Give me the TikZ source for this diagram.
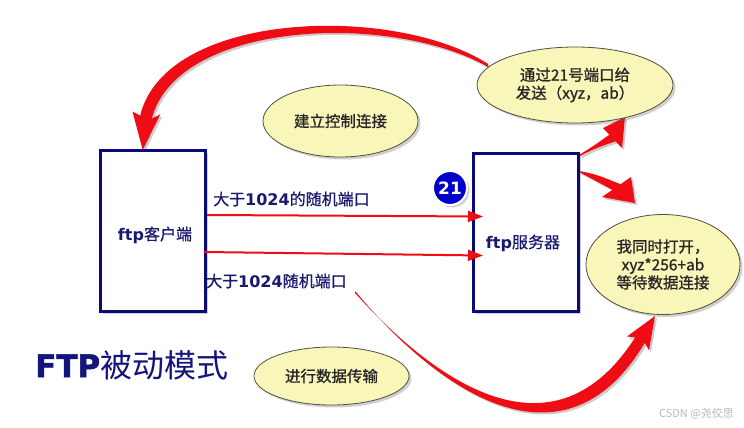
\documentclass[tikz,border=0pt]{standalone}
\usepackage{fontspec}
\setmainfont{Noto Sans CJK SC}
\newfontfamily\cjkb[FakeBold=1.0]{Noto Sans CJK SC}
\newfontfamily\cjkm[FakeBold=0.6]{Noto Sans CJK SC}
\newfontfamily\latb{DejaVu Sans Bold}
\newfontfamily\heavyfont[FakeBold=1.6]{DejaVu Sans Bold}
\usetikzlibrary{shapes.geometric,arrows.meta,shadows,calc}
\definecolor{boxblue}{RGB}{10,10,120}
\definecolor{lbltext}{RGB}{25,25,110}
\definecolor{titleblue}{RGB}{20,20,125}
\definecolor{ellfill}{RGB}{248,246,185}
\definecolor{ellline}{RGB}{80,80,60}
\definecolor{arrred}{RGB}{240,12,20}
\definecolor{circblue}{RGB}{0,0,205}
\definecolor{wmgray}{RGB}{185,185,185}
\tikzset{
  softshadow/.style={drop shadow={shadow xshift=2.5pt, shadow yshift=-2.5pt, opacity=0.3, fill=black!60}},
  box/.style={draw=boxblue, line width=3pt, fill=white, softshadow},
  bubble/.style={ellipse, draw=ellline, line width=0.8pt, fill=ellfill, inner sep=0pt,
    softshadow, font=\cjkb\fontsize{15.5}{18}\selectfont, text=black!85, align=center},
  lbl/.style={text=lbltext, font=\cjkm\fontsize{16}{18}\selectfont, inner sep=0pt},
  hline/.style={draw=arrred, line width=2pt, -{Triangle[length=15pt,width=11pt]}},
}
\newcommand\redshape[1]{\fill[black!45, opacity=0.45, shift={(2,2)}] #1; \fill[arrred] #1;}
\begin{document}
\begin{tikzpicture}[x=1pt,y=-1pt]
\fill[white] (0,0) rectangle (744,428);
\useasboundingbox (0,0) rectangle (744,428);

% big curved arrows (tapered)
\redshape{(488,64) .. controls (395,4) and (166,10) .. (140.2,115.5) -- (132.5,111.6) -- (142.7,150) -- (160.3,114.4) -- (151.8,118.5) .. controls (178,20) and (392,12) .. (488,67) -- cycle}
\redshape{(355,291) .. controls (439,392) and (564,478) .. (644.7,342.9) -- (649,350.2) -- (655,316) -- (626.8,336.6) -- (635.3,337.1) .. controls (556,462) and (441,388) .. (355,293) -- cycle}
% short fat arrows from the server
\redshape{(579,155) .. controls (592,147) .. (609.4,134.7) -- (603,128) -- (625,117) -- (622,148) -- (615.6,141.3) .. controls (596,148) .. (580,156) -- cycle}
\redshape{(579,171) .. controls (595,174) .. (620.6,184.2) -- (631,177) -- (635,203) -- (602,197) -- (612.4,189.8) .. controls (594,180) .. (579,172) -- cycle}

% boxes
\node[box, minimum width=105pt, minimum height=161pt] (client) at (153,231) {};
\node[box, minimum width=105pt, minimum height=158pt] (server) at (526,232.5) {};
\node[lbl] (clientlbl) at (155,235) {{\latb ftp}客户端};
\node[lbl] (serverlbl) at (523,243) {{\latb ftp}服务器};

% ellipses
\node[bubble, minimum width=155pt, minimum height=72pt] (ectl) at (340.5,121) {建立控制连接};
\node[bubble, minimum width=196pt, minimum height=76pt] (esend) at (575,85) {通过21号端口给\\发送（xyz，ab）};
\node[bubble, minimum width=154pt, minimum height=100pt] (eopen) at (663,264.5) {我同时打开，\\xyz*256+ab\\等待数据连接};
\node[bubble, minimum width=155pt, minimum height=58pt] (edata) at (331.5,376) {进行数据传输};

% port circle
\node[circle, fill=circblue, draw=white, line width=2pt, minimum size=34pt, inner sep=0pt,
  text=white, font=\latb\fontsize{17}{17}\selectfont, softshadow] (c21) at (450,188) {21};

% horizontal arrows
\draw[hline] ($(client.east)+(0,-16)$) -- ($(server.west)+(11,-16)$);
\draw[hline] ($(client.east)+(-3,21)$) -- ($(server.west)+(11,23)$);
\node[lbl, anchor=west] (l1) at (213,199) {大于{\latb 1024}的随机端口};
\node[lbl, anchor=west] (l2) at (206,281) {大于{\latb 1024}随机端口};

% title
\node[anchor=base west, text=titleblue, inner sep=0pt] (title) at (35,377)
  {{\heavyfont\fontsize{31}{31}\selectfont FTP}{\fontsize{32}{32}\selectfont 被动模式}};

% watermark
\node[text=wmgray, font=\fontsize{11}{11}\selectfont, anchor=east, inner sep=0pt] (wm) at (734,414) {CSDN @尧佼思};
\end{tikzpicture}
\end{document}
